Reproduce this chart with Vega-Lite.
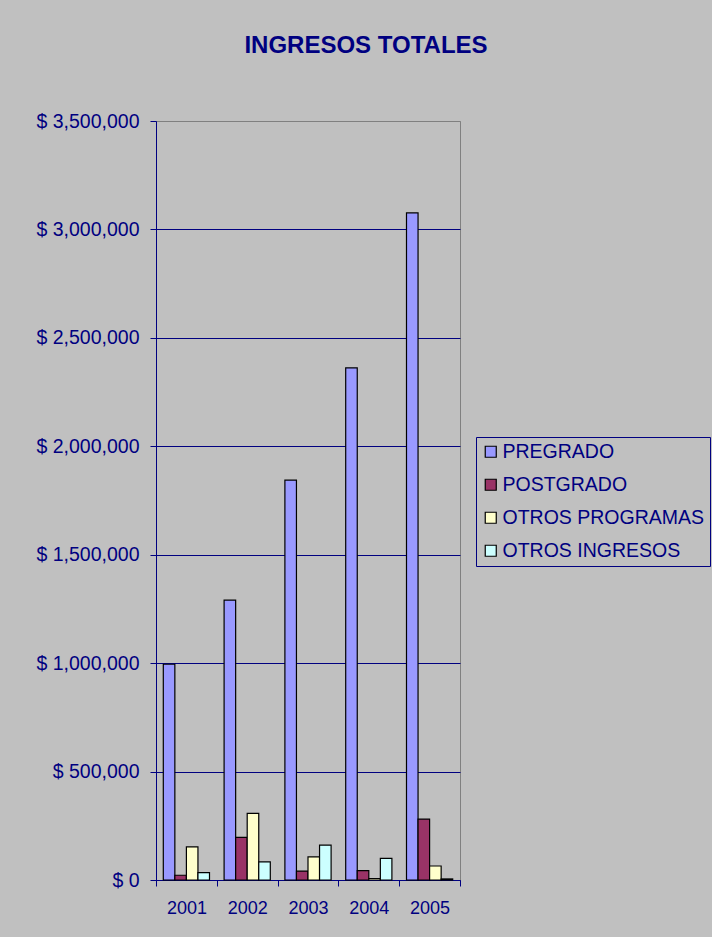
{
  "$schema": "https://vega.github.io/schema/vega-lite/v6.json",
  "autosize": {"type": "none"},
  "padding": {"left": 156, "top": 121, "right": 252, "bottom": 57},
  "width": 304,
  "height": 759,
  "background": "#C0C0C0",
  "title": {
    "text": "INGRESOS TOTALES",
    "font": "Liberation Sans",
    "fontSize": 24,
    "fontWeight": "bold",
    "color": "#000080",
    "anchor": "middle",
    "frame": "group",
    "dx": 58,
    "baseline": "alphabetic",
    "offset": 34
  },
  "data": {
    "values": [
      {"anio": "2001", "serie": "PREGRADO", "valor": 995000},
      {"anio": "2001", "serie": "POSTGRADO", "valor": 22000},
      {"anio": "2001", "serie": "OTROS PROGRAMAS", "valor": 153000},
      {"anio": "2001", "serie": "OTROS INGRESOS", "valor": 34000},
      {"anio": "2002", "serie": "PREGRADO", "valor": 1291000},
      {"anio": "2002", "serie": "POSTGRADO", "valor": 197000},
      {"anio": "2002", "serie": "OTROS PROGRAMAS", "valor": 307000},
      {"anio": "2002", "serie": "OTROS INGRESOS", "valor": 84000},
      {"anio": "2003", "serie": "PREGRADO", "valor": 1844000},
      {"anio": "2003", "serie": "POSTGRADO", "valor": 41000},
      {"anio": "2003", "serie": "OTROS PROGRAMAS", "valor": 107000},
      {"anio": "2003", "serie": "OTROS INGRESOS", "valor": 161000},
      {"anio": "2004", "serie": "PREGRADO", "valor": 2362000},
      {"anio": "2004", "serie": "POSTGRADO", "valor": 43000},
      {"anio": "2004", "serie": "OTROS PROGRAMAS", "valor": 7000},
      {"anio": "2004", "serie": "OTROS INGRESOS", "valor": 100000},
      {"anio": "2005", "serie": "PREGRADO", "valor": 3076000},
      {"anio": "2005", "serie": "POSTGRADO", "valor": 281000},
      {"anio": "2005", "serie": "OTROS PROGRAMAS", "valor": 64500},
      {"anio": "2005", "serie": "OTROS INGRESOS", "valor": 5000}
    ]
  },
  "mark": {"type": "bar", "stroke": "#000000", "strokeWidth": 1.2},
  "encoding": {
    "x": {
      "field": "anio",
      "type": "nominal",
      "title": null,
      "scale": {"paddingInner": 0, "paddingOuter": 0},
      "axis": {
        "labelAngle": 0,
        "tickBand": "extent",
        "labelFont": "Liberation Sans",
        "labelFontSize": 18,
        "labelColor": "#000080",
        "labelPadding": 13,
        "tickSize": 6,
        "tickColor": "#000080",
        "domainColor": "#000080",
        "grid": false
      }
    },
    "xOffset": {
      "field": "serie",
      "type": "nominal",
      "sort": ["PREGRADO", "POSTGRADO", "OTROS PROGRAMAS", "OTROS INGRESOS"],
      "scale": {"paddingInner": 0, "paddingOuter": 0.632}
    },
    "y": {
      "field": "valor",
      "type": "quantitative",
      "title": null,
      "scale": {"domain": [0, 3500000], "nice": false},
      "axis": {
        "values": [0, 500000, 1000000, 1500000, 2000000, 2500000, 3000000, 3500000],
        "labelExpr": "'$ ' + format(datum.value, ',')",
        "labelFont": "Liberation Sans",
        "labelFontSize": 19.5,
        "labelColor": "#000080",
        "labelPadding": 11,
        "tickSize": 6,
        "tickColor": "#000080",
        "domainColor": "#000080",
        "grid": true,
        "gridColor": {"condition": {"test": "datum.value == 3500000", "value": "#808080"}, "value": "#000080"},
        "gridOpacity": 1,
        "gridWidth": 1
      }
    },
    "color": {
      "field": "serie",
      "type": "nominal",
      "title": null,
      "scale": {
        "domain": ["PREGRADO", "POSTGRADO", "OTROS PROGRAMAS", "OTROS INGRESOS"],
        "range": ["#9999FF", "#993366", "#FFFFCC", "#CCFFFF"]
      },
      "legend": {
        "orient": "none",
        "legendX": 320,
        "legendY": 316,
        "fillColor": "#C0C0C0",
        "strokeColor": "#000080",
        "padding": 5,
        "symbolType": "square",
        "symbolSize": 121,
        "symbolStrokeColor": "#000000",
        "symbolStrokeWidth": 1.2,
        "labelFont": "Liberation Sans",
        "labelFontSize": 19.5,
        "labelColor": "#000080",
        "labelOffset": 2,
        "rowPadding": 12,
        "labelLimit": 400
      }
    }
  },
  "config": {
    "view": {"stroke": "#808080", "strokeWidth": 1, "fill": "#C0C0C0"}
  }
}
